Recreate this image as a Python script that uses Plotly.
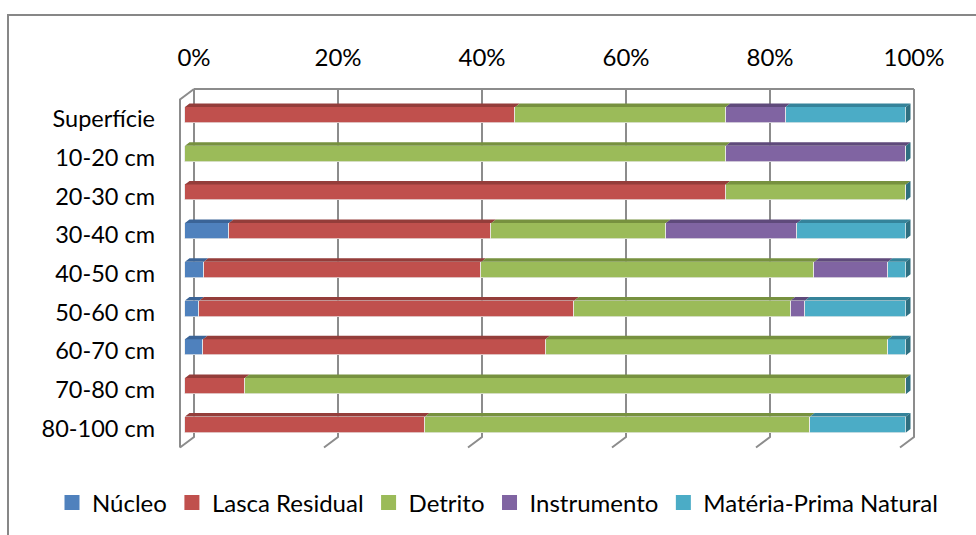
import plotly.graph_objects as go

# Share of each lithic class per excavation level (%)
niveis = ["Superfície", "10-20 cm", "20-30 cm", "30-40 cm", "40-50 cm",
          "50-60 cm", "60-70 cm", "70-80 cm", "80-100 cm"]
nucleo = [0.0, 0.0, 0.0, 6.1, 2.6, 2.0, 2.5, 0.0, 0.0]
lasca_residual = [45.8, 0.0, 75.0, 36.4, 38.5, 52.0, 47.5, 8.3, 33.3]
detrito = [29.2, 75.0, 25.0, 24.2, 46.2, 30.0, 47.5, 91.7, 53.4]
instrumento = [8.3, 25.0, 0.0, 18.2, 10.2, 2.0, 0.0, 0.0, 0.0]
materia_prima = [16.7, 0.0, 0.0, 15.1, 2.5, 14.0, 2.5, 0.0, 13.3]

tick_vals = [0, 20, 40, 60, 80, 100]
tick_text = ["0%", "20%", "40%", "60%", "80%", "100%"]

series = [
    ("Núcleo", nucleo, "#4F81BD", "#3B6497"),
    ("Lasca Residual", lasca_residual, "#C0504D", "#943D3A"),
    ("Detrito", detrito, "#9BBB59", "#77913F"),
    ("Instrumento", instrumento, "#8064A2", "#5F4A7B"),
    ("Matéria-Prima Natural", materia_prima, "#4BACC6", "#35839A"),
]
SIDE_COLOR = "#2F6F80"
FRAME_COLOR = "#8C8C8C"
FONT = "Lato"
FS = 24

# ---- page geometry (pixels) ----
W, H = 976, 535
PL, PR, PT, PB = 176, 920, 84, 452          # plot area
BACK0, BACK100 = 194.0, 914.0               # back wall: 0% / 100%
FRONT0, FRONT100 = 185.0, 906.0             # bar front faces: 0% / 100%
ROW0, ROW_STEP = 115.0, 38.7                # centre of first row, row spacing
WALL_TOP, WALL_BOT = 89.0, 437.0
DEPTH_X, DEPTH_Y = -14.0, 10.5              # back wall -> front edge
BAR_DX, BAR_DY = 4.5, 3.5                   # bar depth (top/side faces)
BAR_H = 16.0

bscale = (BACK100 - BACK0) / 100.0
fscale = (FRONT100 - FRONT0) / 100.0


def bx(px):
    return (px - BACK0) / bscale


def yu(py):
    return (py - ROW0) / ROW_STEP


x_back_range = [bx(PL), bx(PR)]
x_front_range = [(PL - FRONT0) / fscale, (PR - FRONT0) / fscale]
y_range = [yu(PB), yu(PT)]

fig = go.Figure()

# ---- frame: back wall grid, floor ticks, left wall ----
gx, gy = [], []
for v in tick_vals:
    xb = BACK0 + v * bscale
    gx += [bx(xb), bx(xb), bx(xb + DEPTH_X), None]
    gy += [yu(WALL_TOP), yu(WALL_BOT), yu(WALL_BOT + DEPTH_Y), None]
gx += [bx(BACK0), bx(BACK100), None]
gy += [yu(WALL_TOP), yu(WALL_TOP), None]
gx += [bx(BACK0), bx(BACK0 + DEPTH_X), bx(BACK0 + DEPTH_X)]
gy += [yu(WALL_TOP), yu(WALL_TOP + DEPTH_Y), yu(WALL_BOT + DEPTH_Y)]
fig.add_trace(go.Scatter(x=gx, y=gy, mode="lines", xaxis="x", yaxis="y",
                         line=dict(color=FRAME_COLOR, width=2),
                         hoverinfo="skip", showlegend=False))

# ---- bars: front faces ----
half = BAR_H / ROW_STEP / 2
rows = list(range(len(niveis)))
for name, vals, col, _ in series:
    fig.add_trace(go.Bar(
        name=name, x=vals, y=rows, orientation="h", width=2 * half,
        marker=dict(color=col, line=dict(color="rgba(235,235,235,0.9)", width=0.8)),
        xaxis="x2", yaxis="y", legendgroup=name, showlegend=False,
    ))

# ---- bars: top faces and right-hand side face ----
ddx = BAR_DX / fscale
ddy = BAR_DY / ROW_STEP
cum = [0.0] * len(niveis)
for name, vals, col, top in series:
    px_, py_ = [], []
    for i, v in enumerate(vals):
        a, b = cum[i], cum[i] + v
        cum[i] = b
        if v <= 0:
            continue
        yt = i - half
        px_ += [a, b, b + ddx, a + ddx, a, None]
        py_ += [yt, yt, yt - ddy, yt - ddy, yt, None]
    fig.add_trace(go.Scatter(x=px_, y=py_, mode="lines", fill="toself",
                             fillcolor=top, line=dict(width=0, color=top),
                             xaxis="x2", yaxis="y", hoverinfo="skip",
                             legendgroup=name, showlegend=False))

sx, sy = [], []
for i, total in enumerate(cum):
    yt, yb = i - half, i + half
    sx += [total, total + ddx, total + ddx, total, total, None]
    sy += [yt, yt - ddy, yb - ddy, yb, yt, None]
fig.add_trace(go.Scatter(x=sx, y=sy, mode="lines", fill="toself",
                         fillcolor=SIDE_COLOR, line=dict(width=0, color=SIDE_COLOR),
                         xaxis="x2", yaxis="y", hoverinfo="skip", showlegend=False))

# ---- legend keys (square swatches) ----
for name, _, col, _ in series:
    fig.add_trace(go.Scatter(
        x=[None], y=[None], mode="markers", name=name, legendgroup=name,
        marker=dict(symbol="square", size=15, color=col, line=dict(width=0)),
        xaxis="x2", yaxis="y", showlegend=True,
    ))

# ---- outer chart border ----
def px_x(p):
    return (p - PL) / (PR - PL)


def px_y(p):
    return (PB - p) / (PB - PT)


fig.add_shape(type="rect", xref="paper", yref="paper",
              x0=px_x(8), x1=px_x(1000), y0=px_y(560), y1=px_y(15),
              line=dict(color="#878787", width=2), fillcolor="rgba(0,0,0,0)",
              layer="below")

fig.update_layout(
    width=W, height=H,
    margin=dict(l=PL, r=W - PR, t=PT, b=H - PB, pad=0, autoexpand=False),
    paper_bgcolor="white", plot_bgcolor="white",
    barmode="stack", bargap=0,
    font=dict(family=FONT, size=FS, color="#000000"),
    xaxis=dict(range=x_back_range, side="top", tickvals=tick_vals,
               ticktext=tick_text, showgrid=False, zeroline=False,
               showline=False, ticks="", ticklabelstandoff=12,
               fixedrange=True),
    xaxis2=dict(range=x_front_range, overlaying="x", visible=False,
                fixedrange=True),
    yaxis=dict(range=y_range, tickvals=[r + 0.1 for r in rows],
               ticktext=niveis, showgrid=False, zeroline=False,
               showline=False, ticks="", ticklabelstandoff=20,
               tickfont=dict(size=23.5), fixedrange=True),
    legend=dict(orientation="h", x=px_x(52), xanchor="left",
                y=px_y(503), yanchor="middle", font=dict(size=FS),
                itemsizing="trace", traceorder="normal", itemclick=False,
                bgcolor="rgba(0,0,0,0)"),
    showlegend=True,
)

fig.write_html("out.html")
